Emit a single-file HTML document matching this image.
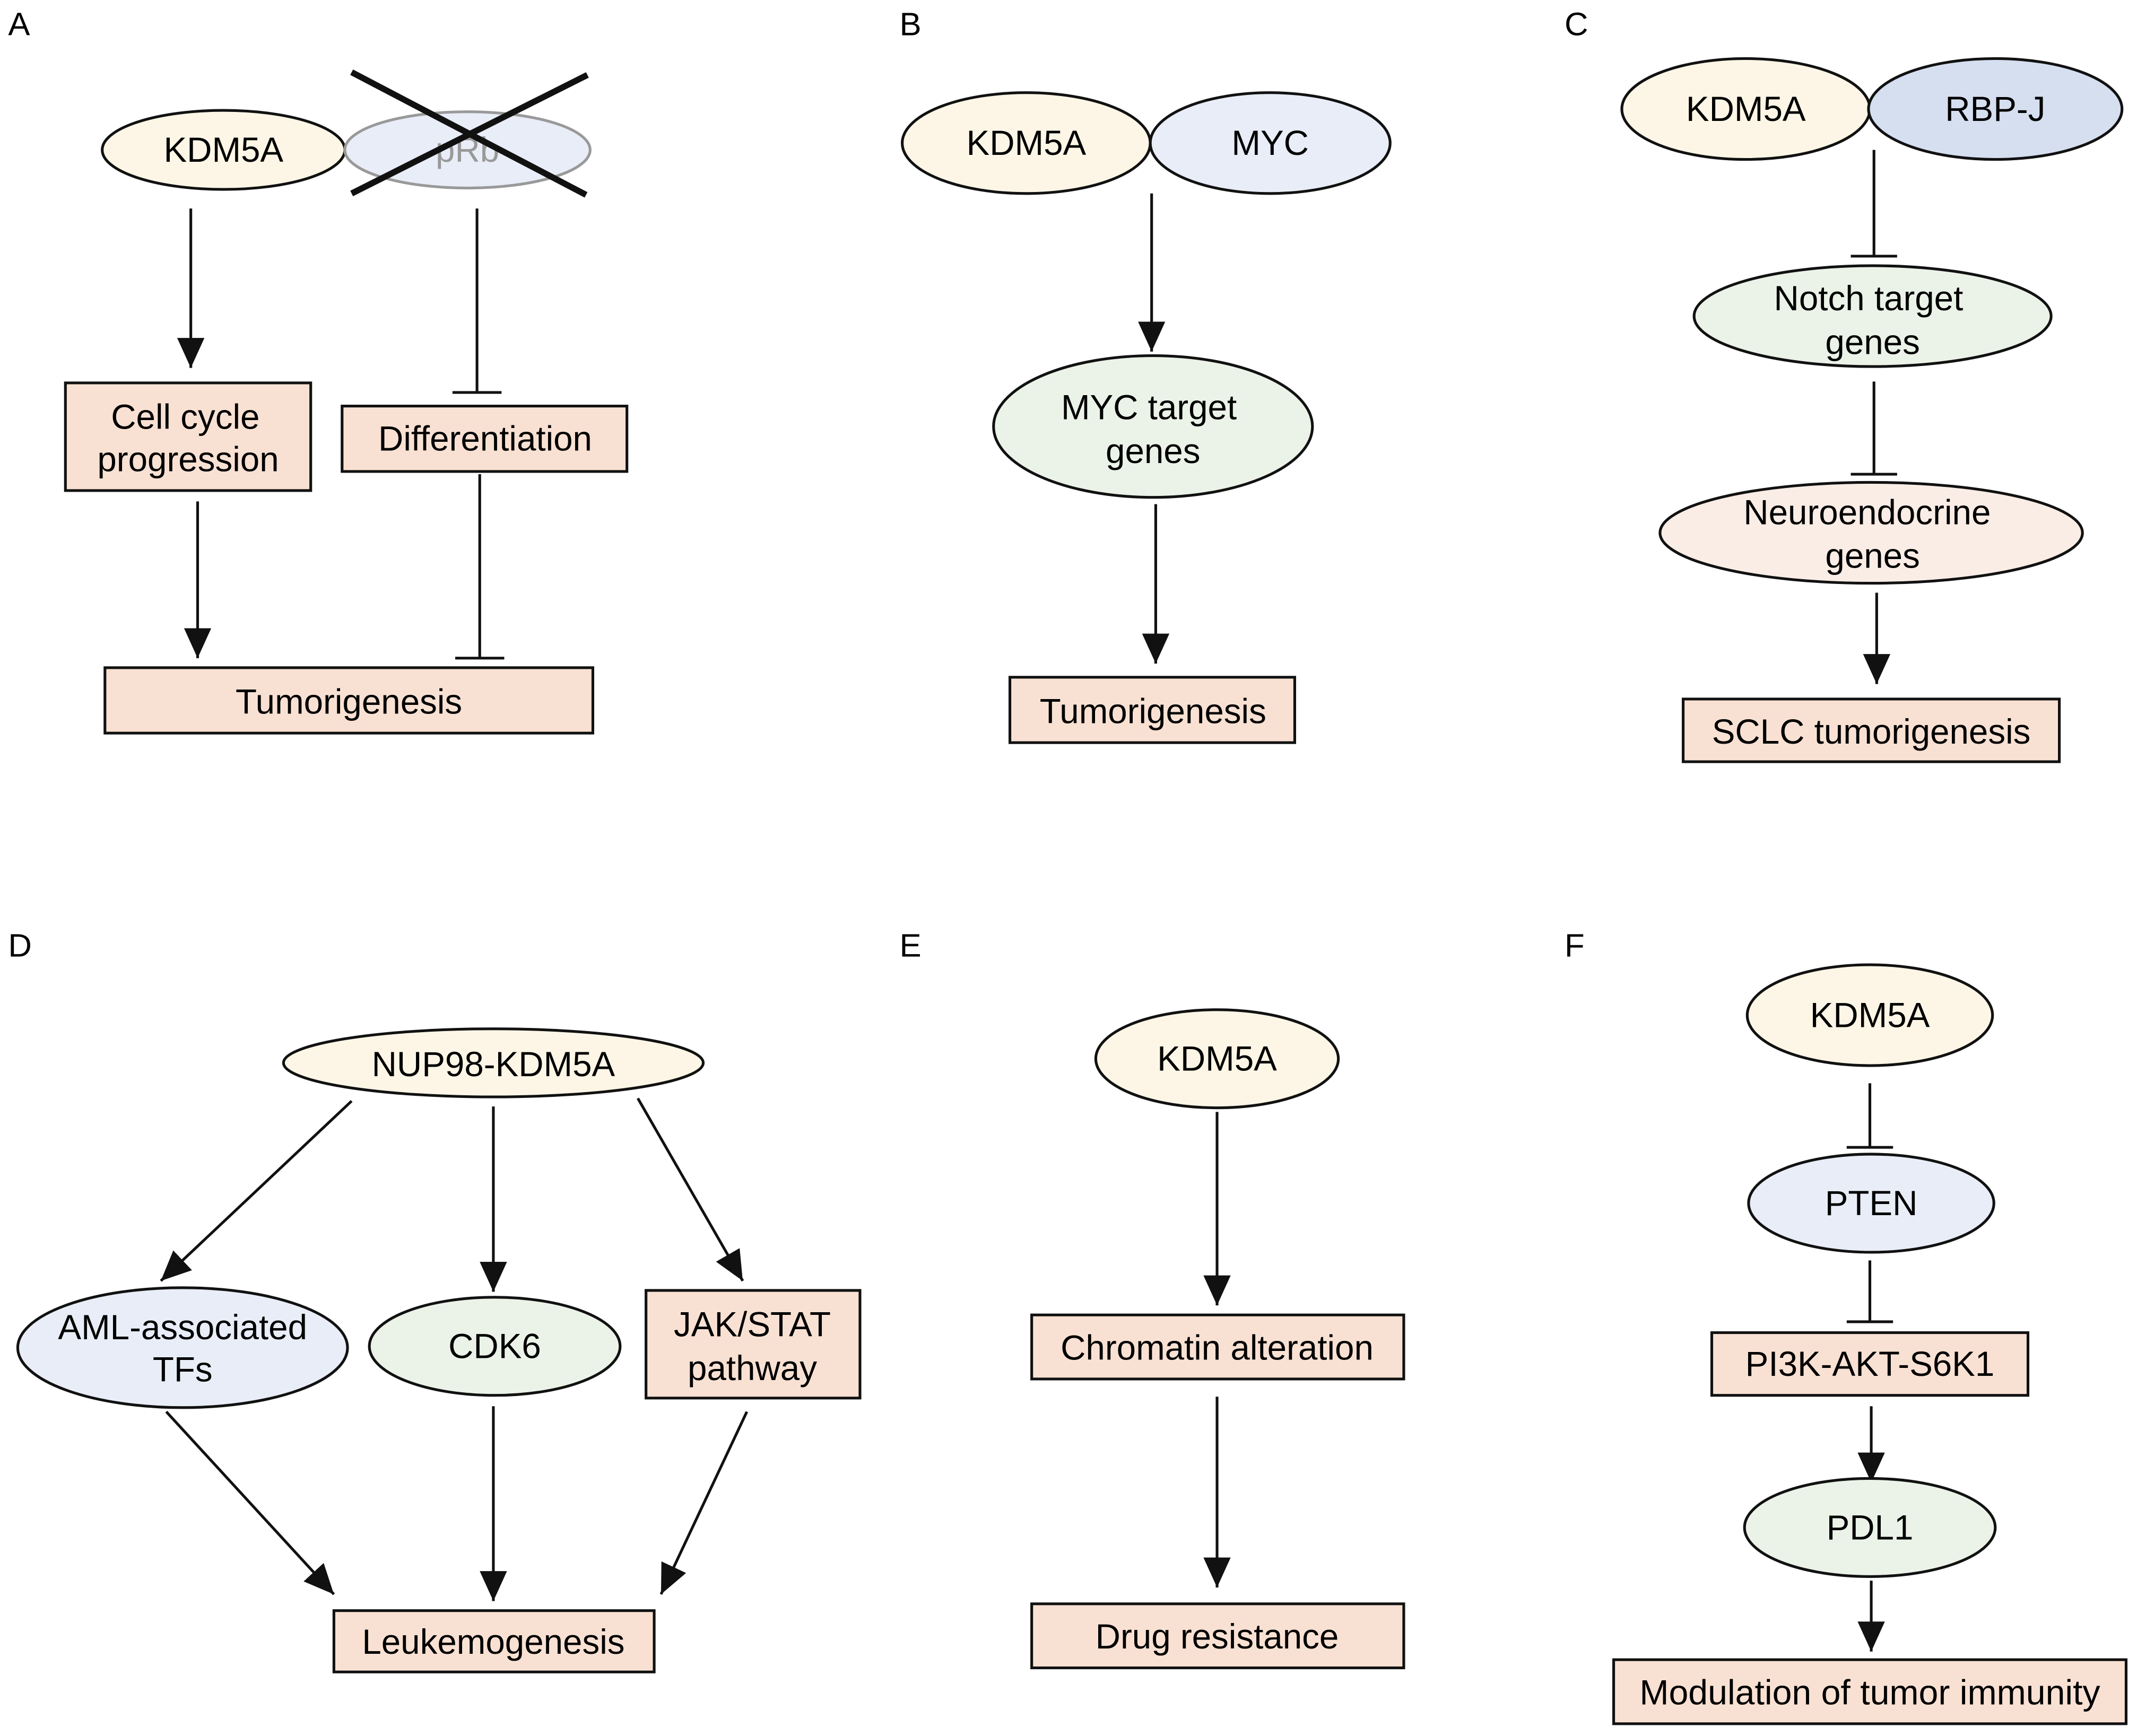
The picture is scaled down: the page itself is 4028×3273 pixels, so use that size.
<!DOCTYPE html>
<html><head><meta charset="utf-8"><style>
html,body{margin:0;padding:0;background:#fff;}
svg{display:block;}
text{font-family:"Liberation Sans",Arial,sans-serif;font-size:25.5px;fill:#000;text-anchor:middle;dominant-baseline:central;}
.lab{text-anchor:start;font-size:24px;}
.e,.r{stroke:#111;stroke-width:2;}
.l{stroke:#111;stroke-width:2;fill:none;}
.ar{marker-end:url(#b);}
</style></head><body>
<svg width="4028" height="3273" viewBox="0 0 1568 1274" preserveAspectRatio="none" xmlns="http://www.w3.org/2000/svg">
<defs>
<marker id="b" viewBox="0 0 22 20" refX="22" refY="10" markerWidth="22" markerHeight="20" markerUnits="userSpaceOnUse" orient="auto">
<path d="M0,0 L22,10 L0,20 Z" fill="#111"/></marker>
</defs>

<!-- Panel A -->
<text class="lab" x="6" y="18">A</text>
<ellipse class="e" cx="164" cy="110" rx="89" ry="29" fill="#FDF6E6"/>
<text x="164" y="110">KDM5A</text>
<ellipse cx="343" cy="110" rx="90" ry="28" fill="#E8EDF7" stroke="#999" stroke-width="2"/>
<text x="343" y="110" style="fill:#999">pRb</text>
<line x1="258" y1="53" x2="430" y2="143" stroke="#111" stroke-width="4.5"/>
<line x1="258" y1="142" x2="431" y2="55" stroke="#111" stroke-width="4.5"/>
<line class="l ar" x1="140" y1="153" x2="140" y2="270"/>
<rect class="r" x="48" y="281" width="180" height="79" fill="#F8E1D3"/>
<text x="136" y="306">Cell cycle</text><text x="138" y="337">progression</text>
<line class="l" x1="350" y1="153" x2="350" y2="288"/><line class="l" x1="332" y1="288" x2="368" y2="288"/>
<rect class="r" x="251" y="298" width="209" height="48" fill="#F8E1D3"/>
<text x="356" y="322">Differentiation</text>
<line class="l ar" x1="145" y1="368" x2="145" y2="483"/>
<line class="l" x1="352" y1="348" x2="352" y2="483"/><line class="l" x1="334" y1="483" x2="370" y2="483"/>
<rect class="r" x="77" y="490" width="358" height="48" fill="#F8E1D3"/>
<text x="256" y="515">Tumorigenesis</text>

<!-- Panel B -->
<text class="lab" x="660" y="18">B</text>
<ellipse class="e" cx="753" cy="105" rx="91" ry="37" fill="#FDF6E6"/>
<text x="753" y="105">KDM5A</text>
<ellipse class="e" cx="932" cy="105" rx="88" ry="37" fill="#E8EDF7"/>
<text x="932" y="105">MYC</text>
<line class="l ar" x1="845" y1="142" x2="845" y2="258"/>
<ellipse class="e" cx="846" cy="313" rx="117" ry="52" fill="#EBF3E8"/>
<text x="843" y="299">MYC target</text><text x="846" y="331">genes</text>
<line class="l ar" x1="848" y1="370" x2="848" y2="487"/>
<rect class="r" x="741" y="497" width="209" height="48" fill="#F8E1D3"/>
<text x="846" y="522">Tumorigenesis</text>

<!-- Panel C -->
<text class="lab" x="1148" y="18">C</text>
<ellipse class="e" cx="1281" cy="80" rx="91" ry="37" fill="#FDF6E6"/>
<text x="1281" y="80">KDM5A</text>
<ellipse class="e" cx="1464" cy="80" rx="93" ry="37" fill="#D5DFF0"/>
<text x="1464" y="80">RBP-J</text>
<line class="l" x1="1375" y1="110" x2="1375" y2="188"/><line class="l" x1="1358" y1="188" x2="1392" y2="188"/>
<ellipse class="e" cx="1374" cy="232" rx="131" ry="37" fill="#EBF3E8"/>
<text x="1371" y="219">Notch target</text><text x="1374" y="251">genes</text>
<line class="l" x1="1375" y1="280" x2="1375" y2="348"/><line class="l" x1="1358" y1="348" x2="1392" y2="348"/>
<ellipse class="e" cx="1373" cy="391" rx="155" ry="37" fill="#FAEDE6"/>
<text x="1370" y="376">Neuroendocrine</text><text x="1374" y="408">genes</text>
<line class="l ar" x1="1377" y1="435" x2="1377" y2="502"/>
<rect class="r" x="1235" y="513" width="276" height="46" fill="#F8E1D3"/>
<text x="1373" y="537">SCLC tumorigenesis</text>

<!-- Panel D -->
<text class="lab" x="6" y="694">D</text>
<ellipse class="e" cx="362" cy="780" rx="154" ry="25" fill="#FDF6E6"/>
<text x="362" y="781">NUP98-KDM5A</text>
<line class="l ar" x1="258" y1="808" x2="118" y2="940"/>
<line class="l ar" x1="362" y1="812" x2="362" y2="948"/>
<line class="l ar" x1="468" y1="806" x2="545" y2="940"/>
<ellipse class="e" cx="134" cy="989" rx="121" ry="44" fill="#E8EDF7"/>
<text x="134" y="974">AML-associated</text><text x="134" y="1005">TFs</text>
<ellipse class="e" cx="363" cy="988" rx="92" ry="36" fill="#EBF3E8"/>
<text x="363" y="988">CDK6</text>
<rect class="r" x="474" y="947" width="157" height="79" fill="#F8E1D3"/>
<text x="552" y="972">JAK/STAT</text><text x="552" y="1004">pathway</text>
<line class="l ar" x1="122" y1="1036" x2="245" y2="1170"/>
<line class="l ar" x1="362" y1="1032" x2="362" y2="1175"/>
<line class="l ar" x1="548" y1="1036" x2="485" y2="1170"/>
<rect class="r" x="245" y="1182" width="235" height="45" fill="#F8E1D3"/>
<text x="362" y="1205">Leukemogenesis</text>

<!-- Panel E -->
<text class="lab" x="660" y="694">E</text>
<ellipse class="e" cx="893" cy="777" rx="89" ry="36" fill="#FDF6E6"/>
<text x="893" y="777">KDM5A</text>
<line class="l ar" x1="893" y1="816" x2="893" y2="958"/>
<rect class="r" x="757" y="965" width="273" height="47" fill="#F8E1D3"/>
<text x="893" y="989">Chromatin alteration</text>
<line class="l ar" x1="893" y1="1025" x2="893" y2="1165"/>
<rect class="r" x="757" y="1177" width="273" height="47" fill="#F8E1D3"/>
<text x="893" y="1201">Drug resistance</text>

<!-- Panel F -->
<text class="lab" x="1148" y="694">F</text>
<ellipse class="e" cx="1372" cy="745" rx="90" ry="37" fill="#FDF6E6"/>
<text x="1372" y="745">KDM5A</text>
<line class="l" x1="1372" y1="795" x2="1372" y2="842"/><line class="l" x1="1355" y1="842" x2="1389" y2="842"/>
<ellipse class="e" cx="1373" cy="883" rx="90" ry="36" fill="#E8EDF7"/>
<text x="1373" y="883">PTEN</text>
<line class="l" x1="1372" y1="925" x2="1372" y2="970"/><line class="l" x1="1355" y1="970" x2="1389" y2="970"/>
<rect class="r" x="1256" y="978" width="232" height="46" fill="#F8E1D3"/>
<text x="1372" y="1001">PI3K-AKT-S6K1</text>
<line class="l ar" x1="1373" y1="1032" x2="1373" y2="1088"/>
<ellipse class="e" cx="1372" cy="1121" rx="92" ry="36" fill="#EBF3E8"/>
<text x="1372" y="1121">PDL1</text>
<line class="l ar" x1="1373" y1="1160" x2="1373" y2="1212"/>
<rect class="r" x="1184" y="1218" width="376" height="47" fill="#F8E1D3"/>
<text x="1372" y="1242" textLength="338" lengthAdjust="spacingAndGlyphs">Modulation of tumor immunity</text>
</svg>
</body></html>
